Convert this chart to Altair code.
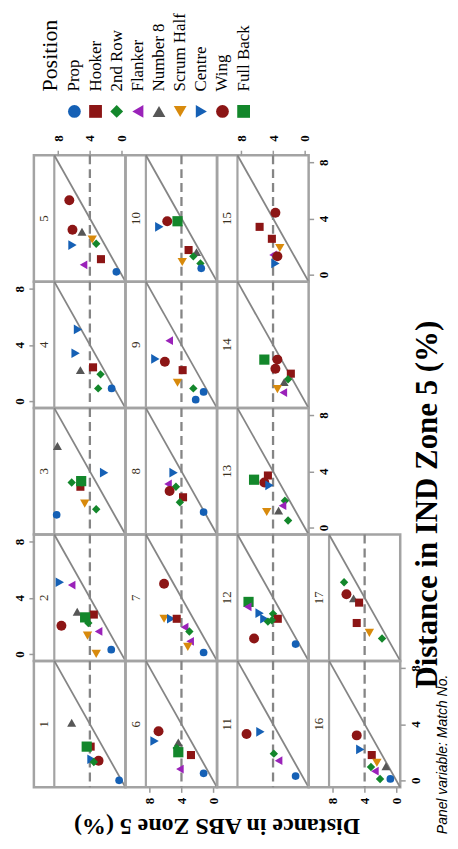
import altair as alt
import pandas as pd

SERIF = "Liberation Serif"
SANS = "Liberation Sans"

POSITIONS = ["Prop", "Hooker", "2nd Row", "Flanker", "Number 8",
             "Scrum Half", "Centre", "Wing", "Full Back"]
COLORS = ["#1560b5", "#8c1515", "#13872b", "#9a22b9", "#575757",
          "#d88a0c", "#1560b5", "#8c1515", "#13872b"]
SHAPES = ["circle", "square", "diamond", "triangle-left", "triangle-up",
          "triangle-down", "triangle-right", "circle", "square"]
SIZES = [60, 105, 125, 160, 160, 160, 160, 100, 110]

LEGEND_TITLE = "Position"
X_TITLE = "Distance in ABS Zone 5 (%)"
Y_TITLE = "Distance in IND Zone 5 (%)"
NOTE = "Panel variable: Match No."
TICKS = [0, 4, 8]

# (position, ABS zone 5 %, IND zone 5 %) per match
M1 = [("Number 8", 6.3, 4.1), ("Hooker", 3.9, 2.4), ("Full Back", 4.4, 2.4),
      ("Centre", 3.8, 1.5), ("Wing", 2.9, 1.4), ("2nd Row", 3.5, 1.3),
      ("Prop", 0.3, 0.0)]
M2 = [("Centre", 7.8, 5.1), ("Flanker", 6.3, 4.9), ("Number 8", 5.6, 3.0),
      ("Hooker", 3.5, 2.8), ("Full Back", 4.6, 2.6), ("2nd Row", 4.2, 2.2),
      ("Wing", 7.6, 2.0), ("Scrum Half", 4.3, 1.3), ("Flanker", 2.9, 1.6),
      ("Scrum Half", 3.2, 0.0), ("Prop", 1.3, 0.3)]
M3 = [("Number 8", 8.1, 5.8), ("Centre", 2.2, 3.9), ("Hooker", 5.2, 2.9),
      ("2nd Row", 6.3, 3.2), ("Full Back", 5.1, 3.3), ("2nd Row", 5.0, 3.2),
      ("Scrum Half", 4.65, 1.7), ("2nd Row", 3.2, 1.3), ("Prop", 8.2, 0.9)]
M4 = [("Centre", 5.5, 5.1), ("Centre", 5.8, 3.4), ("Number 8", 5.2, 2.2),
      ("Hooker", 3.6, 2.4), ("2nd Row", 2.65, 1.9), ("2nd Row", 2.95, 0.9),
      ("Prop", 1.25, 0.9)]
M5 = [("Wing", 6.6, 5.3), ("Wing", 6.2, 3.2), ("Number 8", 5.0, 3.05),
      ("2nd Row", 3.2, 2.2), ("Scrum Half", 3.7, 2.5), ("Centre", 6.2, 2.1),
      ("Flanker", 4.8, 0.7), ("Hooker", 2.6, 1.1), ("Prop", 0.65, 0.2)]
M6 = [("Wing", 6.9, 3.5), ("Centre", 7.4, 2.8), ("Number 8", 4.4, 2.7),
      ("2nd Row", 4.6, 2.3), ("Full Back", 4.4, 2.0), ("Hooker", 2.8, 1.8),
      ("Flanker", 4.2, 0.8), ("Prop", 1.2, 0.5)]
M7 = [("Wing", 6.2, 5.0), ("Scrum Half", 6.2, 2.5), ("Centre", 5.3, 2.5),
      ("Hooker", 4.6, 2.5), ("Flanker", 3.6, 1.9), ("2nd Row", 3.0, 1.6),
      ("Flanker", 2.9, 0.9), ("Scrum Half", 3.2, 0.5), ("Prop", 1.2, 0.1)]
M8 = [("Centre", 5.0, 3.9), ("Flanker", 5.7, 3.1), ("2nd Row", 4.7, 2.9),
      ("Wing", 5.5, 2.6), ("Hooker", 3.8, 2.15), ("2nd Row", 4.2, 1.8),
      ("Prop", 1.2, 1.1)]
M9 = [("Flanker", 5.55, 4.3), ("Centre", 7.3, 3.0), ("Wing", 6.1, 2.8),
      ("Hooker", 3.85, 2.2), ("Scrum Half", 4.5, 1.3), ("2nd Row", 2.5, 0.9),
      ("Prop", 1.2, 0.65), ("Prop", 2.2, 0.1)]
M10 = [("Centre", 6.8, 3.4), ("Wing", 5.8, 3.8), ("Full Back", 4.5, 3.8),
       ("Hooker", 3.1, 1.75), ("Scrum Half", 3.9, 0.9), ("Number 8", 2.1, 1.6),
       ("2nd Row", 2.5, 1.3), ("2nd Row", 1.6, 0.8), ("Prop", 1.5, 0.45)]
M11 = [("Wing", 7.35, 3.3), ("Centre", 5.6, 3.45), ("2nd Row", 3.9, 1.9),
       ("Flanker", 3.3, 1.4), ("Prop", 1.15, 0.3)]
M12 = [("Full Back", 7.1, 3.7), ("Flanker", 7.2, 3.35), ("Centre", 5.7, 2.9),
       ("Centre", 5.1, 2.5), ("2nd Row", 4.0, 2.85), ("Hooker", 3.4, 2.5),
       ("2nd Row", 4.65, 2.3), ("2nd Row", 4.15, 2.4), ("Wing", 6.4, 1.1),
       ("Prop", 1.15, 0.7)]
M13 = [("Full Back", 6.4, 3.4), ("Wing", 5.1, 3.2), ("Hooker", 4.65, 3.7),
       ("Centre", 4.45, 3.0), ("2nd Row", 2.5, 1.9), ("Flanker", 2.8, 1.55),
       ("Number 8", 3.3, 1.2), ("Scrum Half", 4.8, 1.1), ("2nd Row", 2.1, 0.5)]
M14 = [("Full Back", 5.1, 2.95), ("Wing", 3.45, 2.95), ("Wing", 3.7, 2.3),
       ("Hooker", 1.75, 1.95), ("2nd Row", 2.1, 1.55), ("Number 8", 2.6, 1.35),
       ("Scrum Half", 3.45, 0.85), ("Flanker", 2.7, 0.6)]
M15 = [("Wing", 3.7, 4.4), ("Hooker", 5.7, 3.4), ("Hooker", 4.15, 2.55),
       ("Scrum Half", 3.15, 1.9), ("Flanker", 4.0, 1.4), ("Wing", 3.45, 1.3),
       ("Centre", 3.7, 0.8)]
M16 = [("Wing", 5.0, 3.2), ("Centre", 4.55, 2.2), ("Hooker", 3.1, 1.8),
       ("Number 8", 1.3, 1.0), ("Scrum Half", 2.45, 1.25), ("2nd Row", 3.2, 0.95),
       ("Flanker", 2.7, 0.65), ("2nd Row", 2.05, 0.1), ("Prop", 0.75, 0.1)]
M17 = [("2nd Row", 6.6, 5.1), ("Wing", 6.3, 4.25), ("Number 8", 5.4, 3.95),
       ("Hooker", 4.7, 3.65), ("Hooker", 5.0, 2.2), ("Scrum Half", 3.4, 1.5),
       ("2nd Row", 1.8, 1.1)]

PANELS = {1: M1, 2: M2, 3: M3, 4: M4, 5: M5, 6: M6, 7: M7, 8: M8, 9: M9,
          10: M10, 11: M11, 12: M12, 13: M13, 14: M14, 15: M15, 16: M16, 17: M17}

# rotated panel grid, row by row; 0 = empty cell
PANEL_ROWS = [[5, 10, 15, 0], [4, 9, 14, 0], [3, 8, 13, 0], [2, 7, 12, 17], [1, 6, 11, 16]]
X_AXIS = {5: "top", 15: "top", 6: "bottom", 16: "bottom"}
Y_AXIS = {4: "left", 2: "left", 15: "right", 13: "right", 16: "right"}

PW, PH = 92, 127
LEG_H, TITLE_H, RIGHT_W = 146, 50, 50
LO, HI = -0.5, 8.5
STRIP_HI = 11.08
REF = 4

FRAME = "#a3a3a3"
LINE = "#858585"

color_scale = alt.Scale(domain=POSITIONS, range=COLORS)
shape_scale = alt.Scale(domain=POSITIONS, range=SHAPES)
size_scale = alt.Scale(domain=POSITIONS, range=SIZES)
NOSTROKE = alt.ViewBackground(stroke="transparent", strokeWidth=0)


def axis_for(orient):
    kw = dict(values=TICKS, labelAngle=270, tickSize=5, ticks=True, domain=False,
              grid=False, title=None, labelFont=SERIF, labelFontSize=13,
              labelFontWeight="bold", labelColor="black", tickColor="#9a9a9a",
              tickWidth=1.5, orient=orient, labelOverlap=False)
    if orient == "top":
        kw.update(labelAlign="left", labelBaseline="middle", labelPadding=9)
    elif orient == "bottom":
        kw.update(labelAlign="right", labelBaseline="middle", labelPadding=5)
    elif orient == "right":
        kw.update(labelAlign="center", labelBaseline="top", labelPadding=4)
    else:
        kw.update(labelAlign="center", labelBaseline="bottom", labelPadding=2)
    return alt.Axis(**kw)


def panel(m):
    xax = axis_for(X_AXIS[m]) if m in X_AXIS else None
    yax = axis_for(Y_AXIS[m]) if m in Y_AXIS else None
    xs = alt.Scale(domain=[LO, STRIP_HI], reverse=True, nice=False, zero=False)
    ys = alt.Scale(domain=[LO, HI], nice=False, zero=False)

    def X(f="x"):
        return alt.X(f"{f}:Q", scale=xs, axis=xax)

    def Y(f="y"):
        return alt.Y(f"{f}:Q", scale=ys, axis=yax)

    strip = alt.Chart(pd.DataFrame({"x": [HI]})).mark_rule(
        color=FRAME, strokeWidth=2.2).encode(x=X())
    diag = alt.Chart(pd.DataFrame({"x": [LO], "x2": [HI], "y": [LO], "y2": [HI]})).mark_rule(
        color=LINE, strokeWidth=1.8).encode(x=X(), x2="x2:Q", y=Y(), y2="y2:Q")
    dash = alt.Chart(pd.DataFrame({"x": [REF]})).mark_rule(
        color=LINE, strokeWidth=2.3, strokeDash=[9, 5]).encode(x=X())
    pts_df = pd.DataFrame(PANELS[m], columns=["Position", "x", "y"])
    pts = alt.Chart(pts_df).mark_point(filled=True, opacity=1).encode(
        x=X(), y=Y(),
        color=alt.Color("Position:N", scale=color_scale, legend=None),
        shape=alt.Shape("Position:N", scale=shape_scale, legend=None),
        size=alt.Size("Position:N", scale=size_scale, legend=None),
    )
    lab = alt.Chart(pd.DataFrame({"x": [(HI + STRIP_HI) / 2], "y": [(LO + HI) / 2],
                                  "label": [str(m)]})).mark_text(
        angle=270, fontSize=13, font=SERIF, color="#3a3020",
        align="center", baseline="middle").encode(x=X(), y=Y(), text="label:N")
    return alt.layer(strip, diag, dash, pts, lab).properties(width=PW, height=PH)


def blank(w=1, h=1):
    return alt.Chart(pd.DataFrame({"x": [0]})).mark_point(
        opacity=0, size=0, strokeWidth=0
    ).encode(x=alt.value(0), y=alt.value(h)).properties(width=w, height=h, view=NOSTROKE)


# legend, drawn with the same colour / shape scales (spills right of its cell)
STEP = 21.25
leg_df = pd.DataFrame({"Position": POSITIONS, "idx": list(range(len(POSITIONS)))})
lx = alt.Scale(domain=[-1.915, -1.915 + PW / STEP], nice=False, zero=False)
leg_pts = alt.Chart(leg_df).mark_point(filled=True, opacity=1, size=165).encode(
    x=alt.X("idx:Q", scale=lx, axis=None), y=alt.value(102),
    color=alt.Color("Position:N", scale=color_scale, legend=None),
    shape=alt.Shape("Position:N", scale=shape_scale, legend=None))
leg_txt = alt.Chart(leg_df).mark_text(
    angle=270, align="left", baseline="middle", fontSize=17, font=SERIF, color="black"
).encode(x=alt.X("idx:Q", scale=lx, axis=None), y=alt.value(82), text="Position:N")
leg_title = alt.Chart(pd.DataFrame({"t": [LEGEND_TITLE]})).mark_text(
    angle=270, align="left", baseline="middle", fontSize=22, font=SERIF, color="black"
).encode(x=alt.value(16.3), y=alt.value(82), text="t:N")
legend = alt.layer(leg_pts, leg_txt, leg_title).properties(
    width=PW, height=LEG_H, view=NOSTROKE)

abs_title = alt.Chart(pd.DataFrame({"t": [X_TITLE]})).mark_text(
    angle=180, align="center", baseline="middle", fontSize=24, fontWeight="bold",
    font=SERIF, color="black"
).encode(x=alt.value(2 * PW), y=alt.value(39), text="t:N").properties(
    width=PW, height=TITLE_H, view=NOSTROKE)

ind_title = alt.Chart(pd.DataFrame({"t": [Y_TITLE]})).mark_text(
    angle=270, align="center", baseline="middle", fontSize=31, fontWeight="bold",
    font=SERIF, color="black"
).encode(x=alt.value(28), y=alt.value(97), text="t:N").properties(
    width=RIGHT_W, height=PH, view=NOSTROKE)

note = alt.Chart(pd.DataFrame({"t": [NOTE]})).mark_text(
    angle=270, align="left", baseline="middle", fontSize=14, fontStyle="italic",
    font=SANS, color="black"
).encode(x=alt.value(43), y=alt.value(47), text="t:N").properties(
    width=RIGHT_W, height=TITLE_H, view=NOSTROKE)

cells = [legend, blank(), blank(), blank(), blank()]
for r, row in enumerate(PANEL_ROWS):
    for m in row:
        cells.append(panel(m) if m else blank())
    cells.append(ind_title if r == 2 else blank())
cells += [abs_title, blank(), blank(), blank(), note]

chart = alt.concat(*cells, columns=5, spacing=0, bounds="flush", align="each").properties(
    padding={"left": 4, "top": 0, "right": 0, "bottom": 0}
).configure_view(stroke=FRAME, strokeWidth=2.5)

chart.save("out.html", embed_options={"renderer": "svg", "actions": False})
